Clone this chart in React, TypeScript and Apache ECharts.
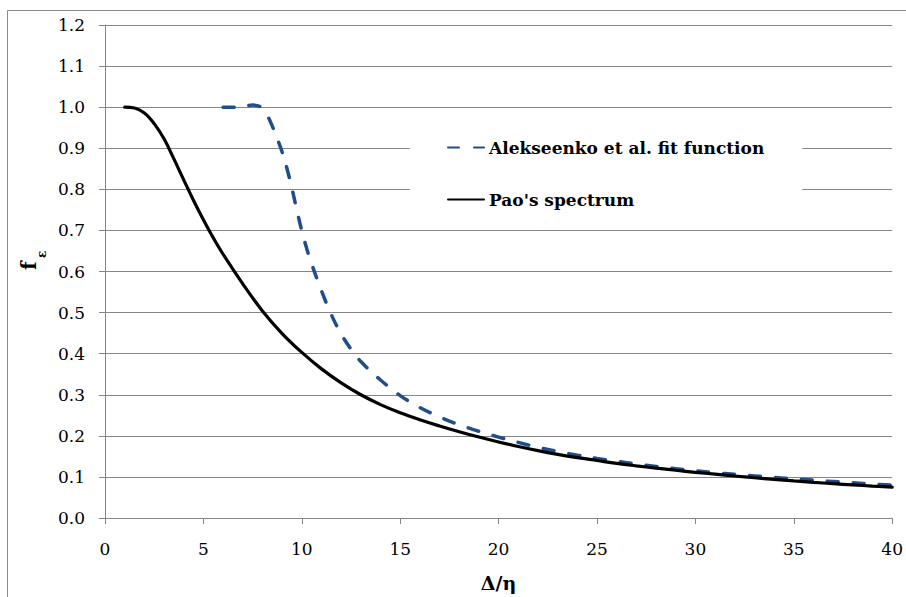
import React, { useEffect, useRef } from "react";
import * as echarts from "echarts";

// Series names, in legend order
const seriesNames = ["Alekseenko et al. fit function", "Pao's spectrum"];

// Alekseenko et al. fit function: Δ/η and f_ε
const fitDelta = [6, 6.5, 7, 7.5, 8, 8.25, 8.5, 8.75, 9, 9.25, 9.5, 9.75, 10, 10.25, 10.5, 10.75, 11, 11.5, 12, 12.5, 13, 14, 15, 16, 17, 18, 19, 20, 21, 22, 23, 24, 25, 26, 27, 28, 29, 30, 31, 32, 33, 34, 35, 36, 37, 38, 39, 40];
const fitF = [1.0, 1.0, 1.001, 1.005, 0.998, 0.98, 0.954, 0.924, 0.891, 0.85, 0.802, 0.749, 0.699, 0.656, 0.619, 0.585, 0.553, 0.495, 0.448, 0.411, 0.381, 0.336, 0.298, 0.269, 0.246, 0.227, 0.211, 0.197, 0.184, 0.172, 0.162, 0.153, 0.145, 0.138, 0.1315, 0.1255, 0.12, 0.1148, 0.1103, 0.1063, 0.1025, 0.0988, 0.0953, 0.092, 0.0888, 0.0857, 0.0828, 0.08];

// Pao's spectrum: Δ/η and f_ε
const paoDelta = [1, 1.5, 2, 2.5, 3, 3.5, 4, 4.5, 5, 5.5, 6, 7, 8, 9, 10, 11, 12, 13, 14, 15, 16, 17, 18, 19, 20, 21, 22, 23, 24, 25, 26, 27, 28, 29, 30, 31, 32, 33, 34, 35, 36, 37, 38, 39, 40];
const paoF = [1.0, 0.998, 0.986, 0.96, 0.923, 0.874, 0.823, 0.773, 0.726, 0.682, 0.642, 0.57, 0.504, 0.449, 0.403, 0.363, 0.329, 0.3, 0.276, 0.256, 0.239, 0.224, 0.21, 0.197, 0.185, 0.174, 0.164, 0.155, 0.147, 0.14, 0.133, 0.127, 0.1215, 0.1162, 0.1112, 0.1066, 0.1022, 0.098, 0.094, 0.0903, 0.0868, 0.0836, 0.0806, 0.0777, 0.075];

// Axis ranges
const xMin = 0;
const xMax = 40;
const xStep = 5;
const yMin = 0;
const yMax = 1.2;
const yStep = 0.1;

const serif = "DejaVu Serif";
const gridGray = "#868686";

const pairs = (xs: number[], ys: number[]) => xs.map((x, i) => [x, ys[i]]);

export default function App() {
  const ref = useRef<HTMLDivElement>(null);

  useEffect(() => {
    if (!ref.current) return;
    const chart = echarts.init(ref.current, null, { renderer: "svg" });
    chart.setOption({
      animation: false,
      backgroundColor: "#fff",
      grid: { left: 105, right: 9, top: 25, bottom: 78.7, containLabel: false },
      xAxis: {
        type: "value",
        min: xMin,
        max: xMax,
        interval: xStep,
        name: "Δ/η",
        nameLocation: "middle",
        nameGap: 55,
        nameTextStyle: { fontFamily: serif, fontSize: 19, fontWeight: "bold", color: "#000" },
        axisLine: { show: true, onZero: false, lineStyle: { color: gridGray, width: 1 } },
        axisTick: { show: true, inside: false, length: 6, lineStyle: { color: gridGray } },
        axisLabel: { fontFamily: serif, fontSize: 17, color: "#000", margin: 22 },
        splitLine: { show: false },
      },
      yAxis: {
        type: "value",
        min: yMin,
        max: yMax,
        interval: yStep,
        axisLine: { show: true, lineStyle: { color: gridGray, width: 1 } },
        axisTick: { show: true, inside: false, length: 6, lineStyle: { color: gridGray } },
        axisLabel: {
          fontFamily: serif,
          fontSize: 17,
          color: "#000",
          margin: 20,
          formatter: (v: number) => v.toFixed(1),
        },
        splitLine: { show: true, lineStyle: { color: gridGray, width: 1 } },
      },
      legend: {
        orient: "vertical",
        left: 410,
        top: 119,
        padding: [20, 38, 10, 37],
        backgroundColor: "#fff",
        itemWidth: 36,
        itemHeight: 14,
        itemGap: 35,
        itemStyle: { opacity: 0 },
        textStyle: { fontFamily: serif, fontSize: 17, fontWeight: "bold", color: "#000" },
        data: seriesNames,
      },
      graphic: [
        {
          type: "rect",
          silent: true,
          shape: { x: 7.5, y: 10.5, width: 1000, height: 1000 },
          style: { fill: "none", stroke: "#8c8c8c", lineWidth: 1 },
          z: 0,
        },
        {
          // rotated axis title f with subscript ε
          type: "group",
          x: 29,
          y: 270,
          rotation: Math.PI / 2,
          children: [
            {
              type: "text",
              x: 0,
              y: 0,
              style: {
                text: "f",
                fontFamily: serif,
                fontSize: 20,
                fontWeight: "bold",
                fill: "#000",
                textAlign: "left",
                textVerticalAlign: "middle",
              },
            },
            {
              type: "text",
              x: 12,
              y: 13,
              style: {
                text: "ε",
                fontFamily: serif,
                fontSize: 12,
                fontWeight: "bold",
                fill: "#000",
                textAlign: "left",
                textVerticalAlign: "middle",
              },
            },
          ],
        },
      ],
      series: [
        {
          name: seriesNames[0],
          type: "line",
          data: pairs(fitDelta, fitF),
          smooth: 0.4,
          symbol: "none",
          lineStyle: { color: "#1F4E8A", width: 3.5, type: [11, 15], cap: "round" },
          itemStyle: { color: "#1F4E8A" },
        },
        {
          name: seriesNames[1],
          type: "line",
          data: pairs(paoDelta, paoF),
          smooth: 0.4,
          symbol: "none",
          lineStyle: { color: "#000", width: 3.2, cap: "round" },
          itemStyle: { color: "#000" },
        },
      ],
    });
    return () => chart.dispose();
  }, []);

  return (
    <div
      ref={ref}
      style={{ position: "absolute", left: 0, top: 0, width: 906, height: 597 }}
    />
  );
}
